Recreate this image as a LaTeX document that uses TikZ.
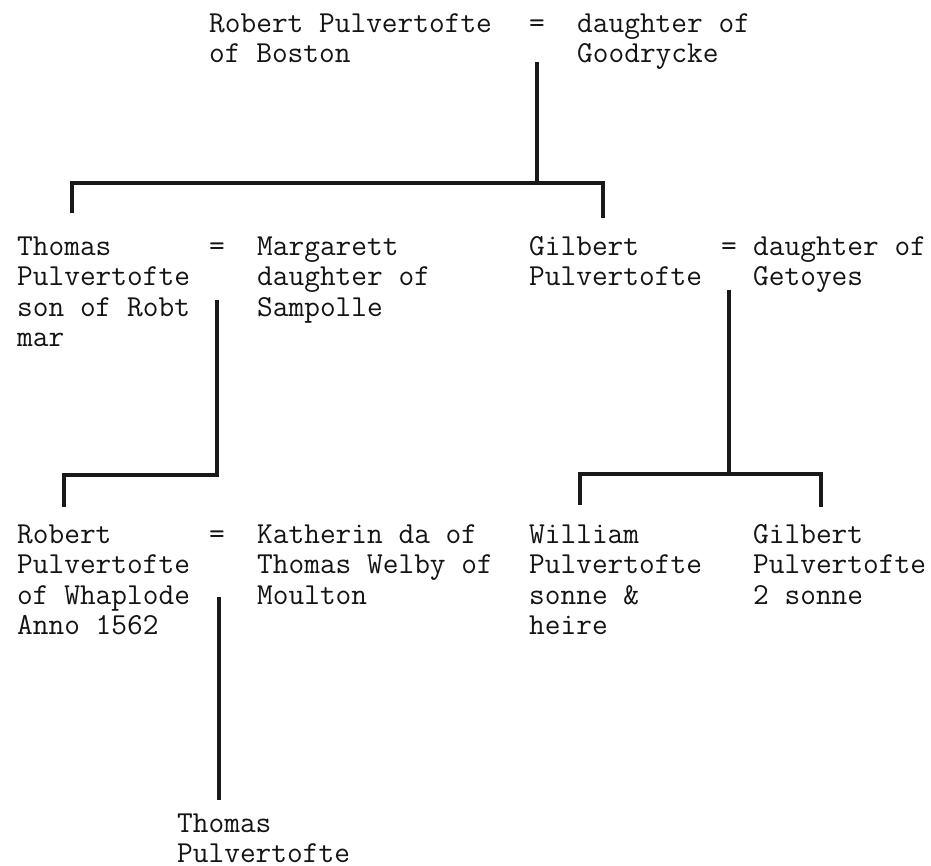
\documentclass[tikz,border=0pt]{standalone}
\begin{document}
\begin{tikzpicture}[x=1pt,y=-1pt,
  txt/.style={anchor=north west,inner sep=0pt,align=left,text=black!92,
    font=\fontsize{30.5}{30.5}\selectfont\ttfamily},
  conn/.style={line width=4.3pt,draw=black!90,line join=miter}]
\fill[white] (0,0) rectangle (931,865);
\useasboundingbox (0,0) rectangle (931,865);
% row 1 (baseline 32)
\node[txt] (rp)  at (209,10.65) {\strut Robert Pulvertofte\\of Boston};
\node[txt] (eq1) at (529,10.65) {\strut =};
\node[txt] (dg)  at (577,10.65) {\strut daughter of\\Goodrycke};
% row 2 (baseline 255)
\node[txt] (tp)  at (17,233.65) {\strut Thomas\\Pulvertofte\\son of Robt\\mar};
\node[txt] (eq2) at (209,233.65) {\strut =};
\node[txt] (mg)  at (257,233.65) {\strut Margarett\\daughter of\\Sampolle};
\node[txt] (gp)  at (529,233.65) {\strut Gilbert\\Pulvertofte};
\node[txt] (eq3) at (721,233.65) {\strut =};
\node[txt] (dgg) at (753,233.65) {\strut daughter of\\Getoyes};
% row 3 (baseline 543)
\node[txt] (rw)  at (17,521.65) {\strut Robert\\Pulvertofte\\of Whaplode\\Anno 1562};
\node[txt] (eq4) at (209,521.65) {\strut =};
\node[txt] (kw)  at (257,521.65) {\strut Katherin da of\\Thomas Welby of\\Moulton};
\node[txt] (wp)  at (529,521.65) {\strut William\\Pulvertofte\\sonne \&\\heire};
\node[txt] (gp2) at (753,521.65) {\strut Gilbert\\Pulvertofte\\2 sonne};
% row 4 (baseline 832)
\node[txt] (tp2) at (177,810.65) {\strut Thomas\\Pulvertofte};
% connectors
\coordinate (a0) at (537,62);
\coordinate (a1) at (537,183);
\coordinate (aL) at (72,213);
\coordinate (aR) at (603,218);
\draw[conn] (a0) -- (a1);
\draw[conn] (aL) -- (72,183) -- (603,183) -- (aR);

\coordinate (b0) at (217,300);
\coordinate (bL) at (64,507);
\draw[conn] (b0) -- (217,475) -- (64,475) -- (bL);

\coordinate (c0) at (729,290);
\coordinate (c1) at (729,474);
\coordinate (cL) at (580,505);
\coordinate (cR) at (821,507);
\draw[conn] (c0) -- (c1);
\draw[conn] (cL) -- (580,474) -- (821,474) -- (cR);

\coordinate (d0) at (219,597);
\coordinate (d1) at (219,800);
\draw[conn] (d0) -- (d1);
\end{tikzpicture}
\end{document}
